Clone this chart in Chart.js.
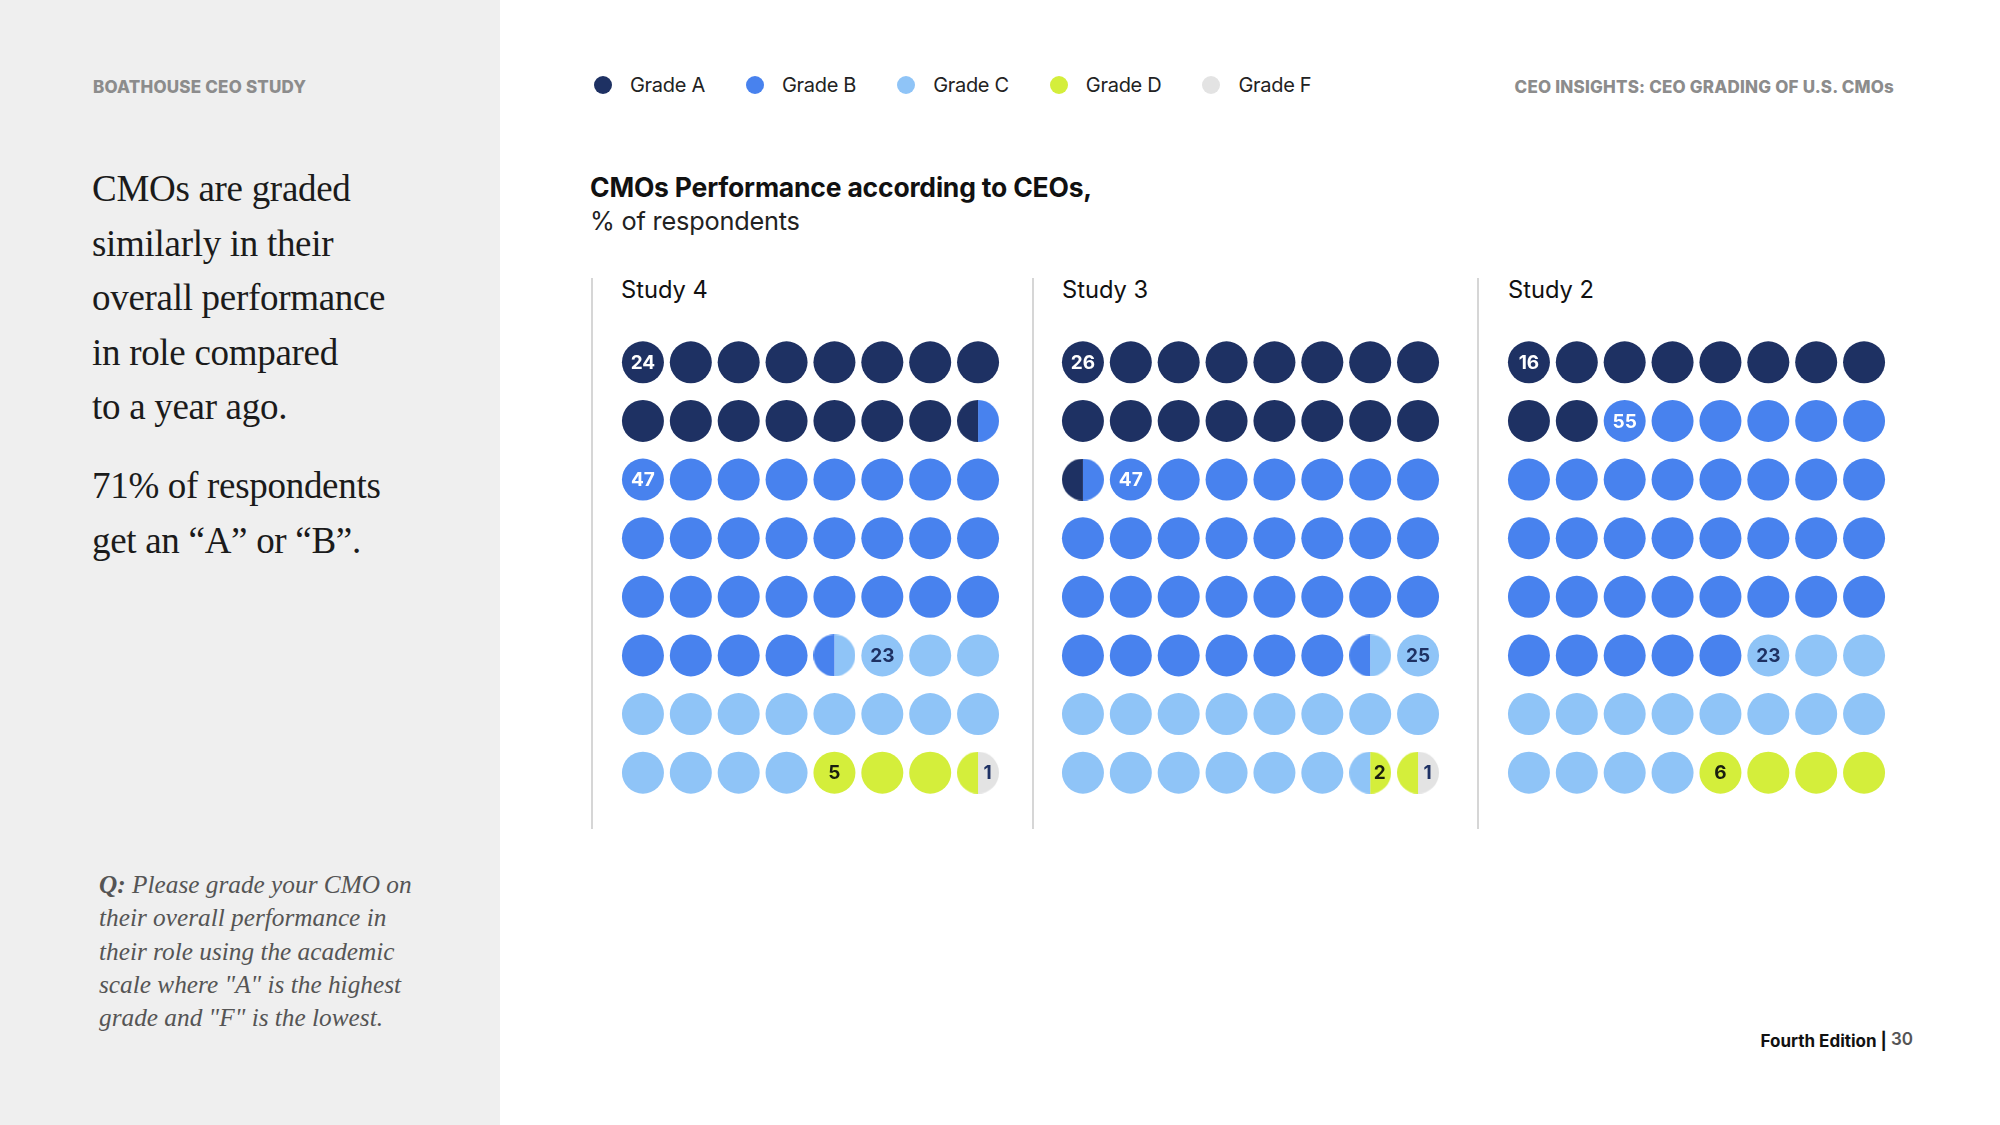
<!DOCTYPE html>
<html>
<head>
<meta charset="utf-8">
<script src="https://cdn.jsdelivr.net/npm/chart.js@4.4.1/dist/chart.umd.min.js"></script>
<style>
html, body { margin: 0; padding: 0; }
body { width: 2000px; height: 1125px; position: relative; background: #fff; font-family: Inter, "Noto Sans", sans-serif; overflow: hidden; }
#side { position: absolute; left: 0; top: 0; width: 500px; height: 1125px; background: #efefef; }
.abs { position: absolute; white-space: nowrap; }
.kicker { font-family: Inter, sans-serif; font-weight: 800; font-size: 17px; color: #8c8c8c; letter-spacing: 0.2px; line-height: 1; transform: translateY(-50%); }
.serif { font-family: "Liberation Serif", "DejaVu Serif", serif; font-size: 37px; line-height: 54.5px; color: #1b1b1b; letter-spacing: -0.3px; }
.question { font-family: "Liberation Serif", serif; font-style: italic; font-size: 25.3px; line-height: 33.3px; color: #555; }
.legend { left: 594px; top: 85px; transform: translateY(-50%); display: flex; align-items: center; font-size: 20px; color: #222; letter-spacing: -0.3px; }
.legend span.item { display: flex; align-items: center; margin-right: 41px; }
.legend i { display: inline-block; width: 18px; height: 18px; border-radius: 50%; margin-right: 18px; }
.title { left: 590px; top: 187px; transform: translateY(-50%); font-weight: 700; font-size: 26.5px; color: #111; letter-spacing: -0.2px; }
.subtitle { left: 590px; top: 220px; transform: translateY(-50%); font-size: 25.3px; color: #222; letter-spacing: -0.2px; }
.sep { position: absolute; top: 278px; width: 2px; height: 551px; background: #d6d6d6; }
.study { top: 289px; transform: translateY(-50%); font-size: 23.7px; color: #111; }
.grid { position: absolute; top: 333px; width: 383px; height: 469px; }
.footer { right: 87px; top: 1041px; transform: translateY(-50%); font-weight: 700; font-size: 17px; color: #111; }
.footer b { color: #555; font-weight: 600; position: relative; top: -2px; }
</style>
</head>
<body>
<div id="side"></div>
<div class="abs kicker" style="left:93px;top:87px;">BOATHOUSE CEO STUDY</div>
<div class="abs serif" style="left:92px;top:162px;">CMOs are graded<br>similarly in their<br>overall performance<br>in role compared<br>to a year ago.</div>
<div class="abs serif" style="left:92px;top:459px;">71% of respondents<br>get an “A” or “B”.</div>
<div class="abs question" style="left:99px;top:868px;"><b>Q:</b> Please grade your CMO on<br>their overall performance in<br>their role using the academic<br>scale where "A" is the highest<br>grade and "F" is the lowest.</div>

<div class="abs legend" id="legend"></div>
<div class="abs kicker" style="right:106px;top:87px;">CEO INSIGHTS: CEO GRADING OF U.S. CMOs</div>
<div class="abs title">CMOs Performance according to CEOs,</div>
<div class="abs subtitle">% of respondents</div>

<div class="sep" style="left:591px;"></div>
<div class="sep" style="left:1032px;"></div>
<div class="sep" style="left:1477px;"></div>
<div class="abs study" style="left:621px;" id="t0"></div>
<div class="abs study" style="left:1062px;" id="t1"></div>
<div class="abs study" style="left:1508px;" id="t2"></div>

<div class="grid" style="left:619px;"><canvas id="grid0"></canvas></div>
<div class="grid" style="left:1059px;"><canvas id="grid1"></canvas></div>
<div class="grid" style="left:1505px;"><canvas id="grid2"></canvas></div>

<div class="abs footer">Fourth Edition | <b>30</b></div>

<script>
const grades = ['Grade A', 'Grade B', 'Grade C', 'Grade D', 'Grade F'];
const gradeColors = ['#1e3163', '#4882ee', '#8fc4f7', '#d4ee3b', '#e3e3e3'];
const labelColors = ['#ffffff', '#ffffff', '#1e3163', '#1a1f10', '#1e3163'];
const studies = ['Study 4', 'Study 3', 'Study 2'];

// percent of respondents per grade
const study4Pct = [24, 47, 23, 5, 1];
const study3Pct = [26, 47, 25, 2, 1];
const study2Pct = [16, 55, 23, 6, 0];

// dots (of 64) per grade as drawn, in half-dot steps
const study4Dots = [15.5, 29, 15.5, 3.5, 0.5];
const study3Dots = [16.5, 30, 16, 1, 0.5];
const study2Dots = [10, 35, 15, 4, 0];

const COLS = 8;
const R = 21;

// legend
const legendEl = document.getElementById('legend');
grades.forEach((g, i) => {
    const item = document.createElement('span');
    item.className = 'item';
    item.innerHTML = `<i style="background:${gradeColors[i]}"></i>${g}`;
    legendEl.appendChild(item);
});
studies.forEach((s, i) => { document.getElementById('t' + i).textContent = s; });

// half-circle point styles
function halfDot(color, side) {
    const c = document.createElement('canvas');
    c.width = R * 2;
    c.height = R * 2;
    const ctx = c.getContext('2d');
    ctx.fillStyle = color;
    ctx.beginPath();
    if (side === 'left') {
        ctx.arc(R, R, R, Math.PI / 2, Math.PI * 1.5);
    } else {
        ctx.arc(R, R, R, -Math.PI / 2, Math.PI / 2);
    }
    ctx.closePath();
    ctx.fill();
    return c;
}
const leftHalves = gradeColors.map(c => halfDot(c, 'left'));
const rightHalves = gradeColors.map(c => halfDot(c, 'right'));

//===============================================

const dotLabels = {
    id: 'dotLabels',
    afterDatasetsDraw(chart, args, opts) {
        const { ctx, scales: { x, y } } = chart;
        ctx.save();
        ctx.font = '700 19px Inter, sans-serif';
        ctx.textAlign = 'center';
        ctx.textBaseline = 'middle';
        opts.items.forEach(it => {
            ctx.fillStyle = it.color;
            ctx.fillText(it.text, x.getPixelForValue(it.x) + it.dx, y.getPixelForValue(it.y) + 1);
        });
        ctx.restore();
    }
};

function drawStudy(canvasId, pct, dots) {
    // grade for each half of each dot
    const halves = [];
    dots.forEach((d, g) => {
        for (let k = 0; k < Math.round(d * 2); k++) halves.push(g);
    });

    const datasets = grades.map((g, i) => ({
        label: g,
        data: [],
        pointStyle: [],
        pointRadius: R,
        pointBackgroundColor: gradeColors[i],
        pointBorderWidth: 0,
        showLine: false
    }));

    for (let i = 0; i < halves.length / 2; i++) {
        const pos = { x: i % COLS, y: Math.floor(i / COLS) };
        const l = halves[i * 2];
        const r = halves[i * 2 + 1];
        if (l === r) {
            datasets[l].data.push(pos);
            datasets[l].pointStyle.push('circle');
        } else {
            datasets[l].data.push(pos);
            datasets[l].pointStyle.push(leftHalves[l]);
            datasets[r].data.push(pos);
            datasets[r].pointStyle.push(rightHalves[r]);
        }
    }

    // label goes on the first whole dot of a grade, else on its first half
    const items = [];
    pct.forEach((p, g) => {
        if (p <= 0) return;
        let idx = -1;
        for (let i = 0; i < halves.length / 2; i++) {
            if (halves[i * 2] === g && halves[i * 2 + 1] === g) { idx = i; break; }
        }
        let dx = 0;
        if (idx < 0) {
            const h = halves.indexOf(g);
            idx = Math.floor(h / 2);
            dx = h % 2 ? R * 0.45 : -R * 0.45;
        }
        items.push({ text: String(p), x: idx % COLS, y: Math.floor(idx / COLS), dx: dx, color: labelColors[g] });
    });

    new Chart(document.getElementById(canvasId), {
        type: 'scatter',
        data: { datasets: datasets },
        options: {
            responsive: true,
            maintainAspectRatio: false,
            animation: false,
            events: [],
            layout: { padding: 0, autoPadding: false },
            scales: {
                x: { type: 'linear', min: -0.5, max: COLS - 0.5, display: false },
                y: { type: 'linear', min: -0.5, max: 7.5, reverse: true, display: false }
            },
            plugins: {
                legend: { display: false },
                tooltip: { enabled: false },
                dotLabels: { items: items }
            }
        },
        plugins: [dotLabels]
    });
}

drawStudy('grid0', study4Pct, study4Dots);
drawStudy('grid1', study3Pct, study3Dots);
drawStudy('grid2', study2Pct, study2Dots);
</script>
</body>
</html>
